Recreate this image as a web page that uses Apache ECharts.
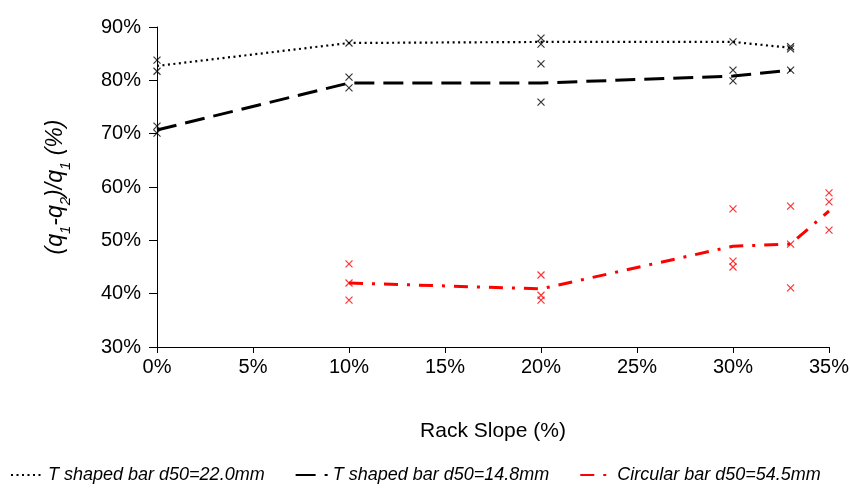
<!DOCTYPE html>
<html>
<head>
<meta charset="utf-8">
<script src="https://cdn.jsdelivr.net/npm/echarts@6/dist/echarts.min.js"></script>
<style>
  html, body { margin: 0; padding: 0; background: #fff; }
  #chart { width: 850px; height: 491px; }
</style>
</head>
<body>
<div id="chart"></div>
<script>
// rack slope (%) where the averaged lines are drawn
var slopeT22 = [0, 10, 20, 30, 33]
var meanT22 = [82.7, 87.0, 87.2, 87.2, 86.1]
var slopeT14 = [0, 10, 20, 30, 33]
var meanT14 = [70.7, 79.5, 79.5, 80.8, 81.9]
var slopeCirc = [10, 20, 30, 33, 35]
var meanCirc = [42.0, 40.9, 48.9, 49.3, 55.5]

// individual measurements [slope, value]
var pointsT22 = [[0, 83.8], [0, 81.7], [10, 87.0], [20, 87.9], [20, 86.8], [30, 87.2], [33, 86.3], [33, 85.9]]
var pointsT14 = [[0, 71.4], [0, 70.1], [10, 80.6], [10, 78.6], [20, 83.1], [20, 75.9], [30, 81.9], [30, 79.9], [33, 81.9]]
var pointsCirc = [[10, 45.6], [10, 42.0], [10, 38.8], [20, 43.5], [20, 39.7], [20, 38.8],
  [30, 55.9], [30, 46.1], [30, 45.0], [33, 56.4], [33, 49.3], [33, 41.1],
  [35, 58.9], [35, 57.2], [35, 51.9]]

var names = ['T shaped bar d50=22.0mm', 'T shaped bar d50=14.8mm', 'Circular bar d50=54.5mm']

function pair (xs, ys) {
  return xs.map(function (x, i) { return [x, ys[i]] })
}

var cross = 'path://M0,0L10,10M10,0L0,10'
function scatter (data, color) {
  return {
    type: 'scatter',
    data: data,
    symbol: cross,
    symbolSize: 7,
    itemStyle: { color: 'transparent', borderColor: color, borderWidth: 1.2 },
    silent: true,
    z: 3
  }
}

var myChart = echarts.init(document.getElementById('chart'))
var option = {
  animation: false,
  textStyle: { fontFamily: 'Liberation Sans, Arial, sans-serif' },
  grid: { left: 157, right: 21, top: 27, bottom: 144, outerBoundsMode: 'none' },
  legend: {
    data: names,
    left: 10,
    top: 466,
    width: 840,
    padding: 0,
    itemWidth: 32,
    itemHeight: 12,
    itemGap: 30,
    itemStyle: { opacity: 0 },
    textStyle: { fontSize: 18, fontStyle: 'italic', color: '#000' }
  },
  xAxis: {
    type: 'value',
    min: 0,
    max: 35,
    interval: 5,
    name: 'Rack Slope (%)',
    nameLocation: 'middle',
    nameGap: 74,
    nameTextStyle: { fontSize: 21, color: '#000' },
    axisLine: { lineStyle: { color: '#000', width: 1 } },
    axisTick: { length: 6, lineStyle: { color: '#000' } },
    axisLabel: { formatter: '{value}%', fontSize: 20, color: '#000', margin: 10 },
    splitLine: { show: false }
  },
  yAxis: {
    type: 'value',
    min: 30,
    max: 90,
    interval: 10,
    name: '{t|(q}{s|1}{t|-q}{s|2}{t|)/q}{s|1}{t| (%)}',
    nameLocation: 'middle',
    nameRotate: 90,
    nameGap: 90,
    nameTextStyle: {
      rich: {
        t: { fontSize: 23, fontStyle: 'italic', color: '#000', lineHeight: 28, verticalAlign: 'bottom' },
        s: { fontSize: 15, fontStyle: 'italic', color: '#000', lineHeight: 28, verticalAlign: 'bottom', padding: [0, 0, -6, 0] }
      }
    },
    axisLine: { show: true, lineStyle: { color: '#000', width: 1 } },
    axisTick: { show: true, length: 8, lineStyle: { color: '#000' } },
    axisLabel: { formatter: '{value}%', fontSize: 20, color: '#000', margin: 16 },
    splitLine: { show: false }
  },
  series: [
    {
      name: names[0],
      type: 'line',
      data: pair(slopeT22, meanT22),
      symbol: 'none',
      lineStyle: { color: '#000', width: 2.2, type: [2, 3.5] },
      itemStyle: { color: '#000' }
    },
    {
      name: names[1],
      type: 'line',
      data: pair(slopeT14, meanT14),
      symbol: 'none',
      lineStyle: { color: '#000', width: 3, type: [20, 9] },
      itemStyle: { color: '#000' }
    },
    {
      name: names[2],
      type: 'line',
      data: pair(slopeCirc, meanCirc),
      symbol: 'none',
      lineStyle: { color: '#ff0000', width: 3, type: [14, 9, 3, 9] },
      itemStyle: { color: '#ff0000' }
    },
    scatter(pointsT22, '#000'),
    scatter(pointsT14, '#000'),
    scatter(pointsCirc, '#ff0000')
  ]
}
myChart.setOption(option)
window.addEventListener('resize', function () {
  myChart.resize()
})
</script>
</body>
</html>
